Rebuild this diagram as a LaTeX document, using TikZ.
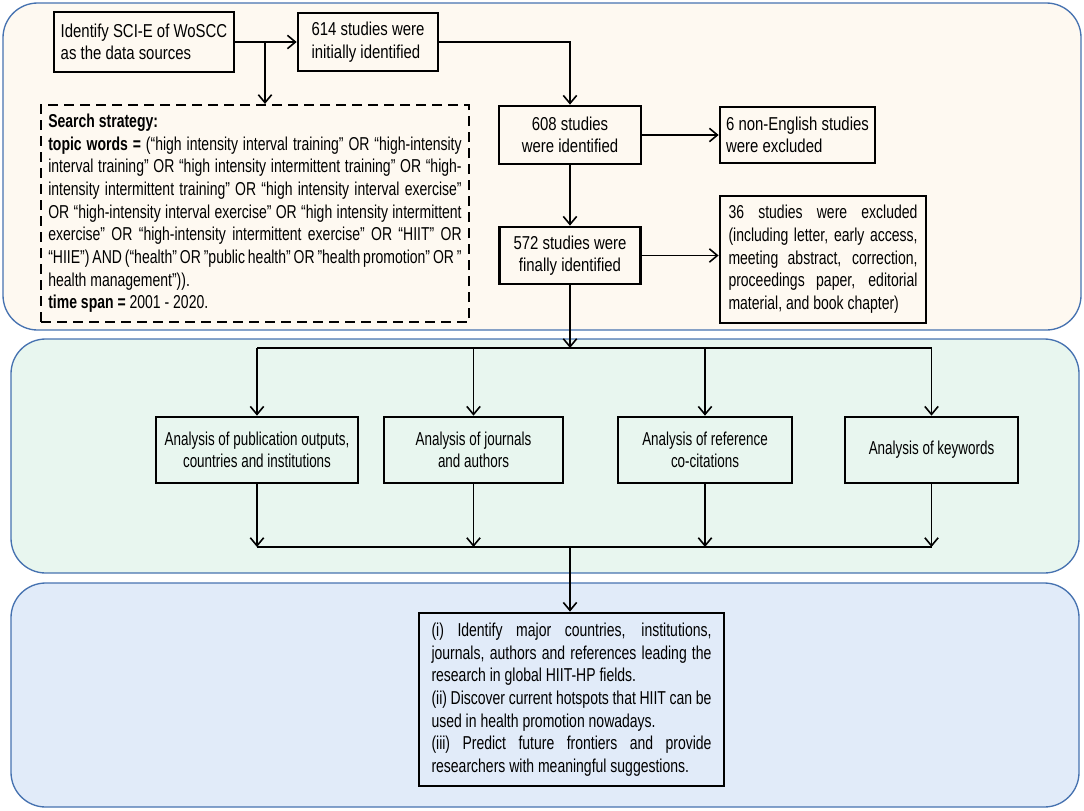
\documentclass[tikz,border=0pt]{standalone}
\usepackage{fontspec}
\setmainfont{Liberation Sans}[FakeStretch=0.80]
\newfontfamily\narrowfont{Liberation Sans}[FakeStretch=0.72]
\newfontfamily\densefont{Liberation Sans}[FakeStretch=0.75]
\usetikzlibrary{arrows.meta}
\definecolor{panelblue}{RGB}{70,114,176}
\definecolor{peachfill}{RGB}{254,249,241}
\definecolor{mintfill}{RGB}{232,246,239}
\definecolor{skyfill}{RGB}{225,235,249}
\tikzset{
  panel/.style={draw=panelblue, line width=1pt, rounded corners=26pt},
  box/.style={draw, line width=2pt, inner sep=3pt, font=\fontsize{14}{16.8}\selectfont,
    execute at begin node={\tolerance=9999 \hyphenpenalty=10000}},
  densebox/.style={box, align=justify, font=\densefont\fontsize{14}{17}\selectfont},
  dashbox/.style={densebox, line width=1.6pt, dash pattern=on 7.5pt off 4.5pt},
  anabox/.style={box, align=center, minimum height=49.5pt, font=\narrowfont\fontsize{14}{16.3}\selectfont},
  arrow/.style={line width=1.2pt, -{Straight Barb[length=6pt,width=10pt]}},
  link/.style={line width=1.2pt},
}
\begin{document}
\begin{tikzpicture}[x=0.75pt,y=0.75pt,yscale=-1,xscale=1]
\path[use as bounding box] (0,0) rectangle (1084,810);
%Rounded Rect panels
\draw[panel, fill=peachfill] (3,3) rectangle (1081,330);
\draw[panel, fill=mintfill] (11,339) rectangle (1079,573);
\draw[panel, fill=skyfill] (11,583) rectangle (1079,807);
% Text Node
\node[box, align=left, minimum width=135pt, minimum height=45pt] (ident) at (144,42) {Identify SCI-E of WoSCC\\as the data sources};
% Text Node
\node[box, align=left, minimum width=105pt, minimum height=43.5pt] (init) at (368,42) {614 studies were\\initially identified};
% Text Node
\node[dashbox, text width=310pt, inner xsep=5.5pt, minimum height=162.75pt] (search) at (255,213.5) {%
\textbf{Search strategy:}\\
\textbf{topic words =} (“high intensity interval training” OR “high-intensity\linebreak
interval training” OR “high intensity intermittent training” OR “high-\linebreak
intensity intermittent training” OR “high intensity interval exercise”\linebreak
OR “high-intensity interval exercise” OR “high intensity intermittent\linebreak
exercise” OR “high-intensity intermittent exercise” OR “HIIT” OR\linebreak
“HIIE”) AND (“health” OR ”public health” OR ”health promotion” OR ”\linebreak
health management”)).\\
\textbf{time span =} 2001 - 2020.};
% Text Node
\node[box, align=center, minimum width=106.5pt, minimum height=43.5pt] (ident608) at (570,135) {608 studies\\were identified};
% Text Node
\node[box, align=left, minimum width=116.25pt, minimum height=42pt] (excl6) at (797.5,135) {6 non-English studies\\were excluded};
% Text Node
\node[box, align=center, minimum width=106pt, minimum height=42.75pt] (final572) at (570,255.5) {572 studies were\\finally identified};
% Text Node
\node[densebox, text width=141.75pt, inner xsep=6.4pt, minimum height=95.25pt] (excl36) at (823,259.5) {%
36 studies were excluded\linebreak
(including letter, early access,\linebreak
meeting abstract, correction,\linebreak
proceedings paper, editorial\linebreak
material, and book chapter)};
% Analysis nodes
\node[anabox, minimum width=151.5pt] (a1) at (257,450) {Analysis of publication outputs,\\countries and institutions};
\node[anabox, minimum width=134.25pt] (a2) at (473.5,450) {Analysis of journals\\and authors};
\node[anabox, minimum width=130.5pt] (a3) at (705,450) {Analysis of reference\\co-citations};
\node[anabox, minimum width=129.75pt] (a4) at (931.5,450) {Analysis of keywords};
% Text Node
\node[densebox, text width=210pt, inner xsep=9.4pt, minimum height=129.75pt] (result) at (571.5,699.5) {%
(i) Identify major countries, institutions,\linebreak
journals, authors and references leading the\linebreak
research in global HIIT-HP fields.\\
(ii) Discover current hotspots that HIIT can be\linebreak
used in health promotion nowadays.\\
(iii) Predict future frontiers and provide\linebreak
researchers with meaningful suggestions.};
%Connectors
\coordinate (branch) at (265,42);
\coordinate (split) at (570,348);
\coordinate (join) at (570,547);
\draw[arrow] (ident.east) -- (init.west);
\draw[arrow] (branch) -- (branch |- search.north);
\draw[arrow] (init.east) -| (ident608.north);
\draw[arrow] (ident608.east) -- (excl6.west);
\draw[arrow] (ident608.south) -- (final572.north);
\draw[arrow] (final572.east) -- (final572.east -| excl36.west);
\draw[arrow] (final572.south) -- (split);
\draw[link] (a1.north |- split) -- (a4.north |- split);
\draw[link] (a1.south |- join) -- (a4.south |- join);
\foreach \n in {a1,a2,a3,a4} {
  \draw[arrow] (\n.north |- split) -- (\n.north);
  \draw[arrow] (\n.south) -- (\n.south |- join);
}
\draw[arrow] (join) -- (join |- result.north);
\end{tikzpicture}
\end{document}
